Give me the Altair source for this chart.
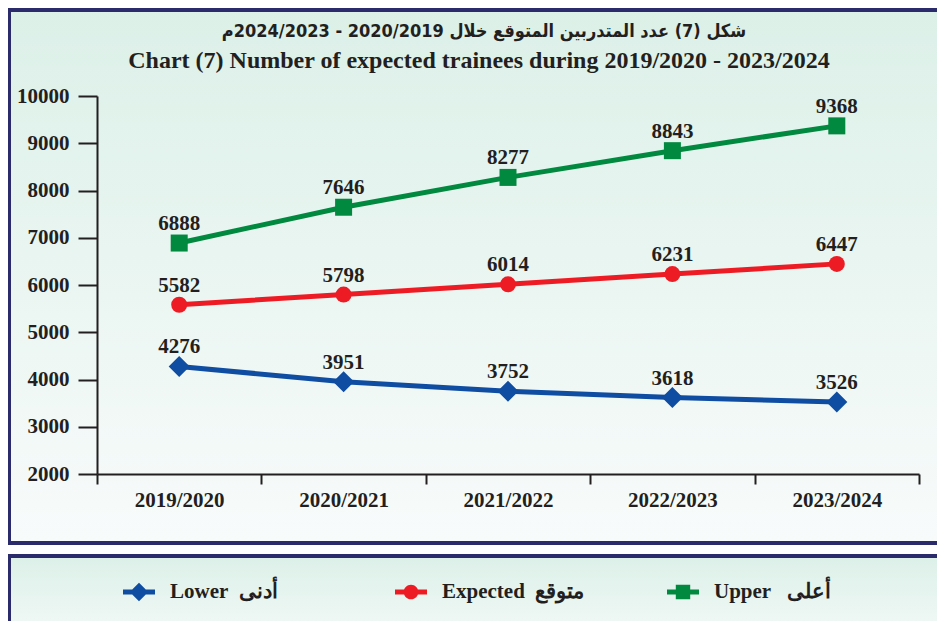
import altair as alt
import pandas as pd

# ---------------- data ----------------
years = ["2019/2020", "2020/2021", "2021/2022", "2022/2023", "2023/2024"]
lower = [4276, 3951, 3752, 3618, 3526]
expected = [5582, 5798, 6014, 6231, 6447]
upper = [6888, 7646, 8277, 8843, 9368]

series_names = ["Lower", "Expected", "Upper"]
legend_labels = ["Lower\u00a0 أدنى", "Expected\u00a0 متوقع", "Upper\u00a0\u00a0 أعلى"]
series_colors = ["#0e4da1", "#ed1c24", "#00893f"]
y_ticks = [2000, 3000, 4000, 5000, 6000, 7000, 8000, 9000, 10000]

title_ar = "شكل (7) عدد المتدربين المتوقع خلال 2020/2019 - 2024/2023م"
title_en = "Chart (7) Number of expected trainees during 2019/2020 - 2023/2024"

rows = []
for name, vals in zip(series_names, [lower, expected, upper]):
    for yr, v in zip(years, vals):
        rows.append({"year": yr, "value": v, "series": name})
df = pd.DataFrame(rows)

# ---------------- styling ----------------
INK = "#231f20"
NAVY = "#2b2a6b"
SERIF = "Liberation Serif"

color_scale = alt.Scale(domain=series_names, range=series_colors)

x_enc = alt.X(
    "year:N", sort=years,
    scale=alt.Scale(type="band", paddingInner=0, paddingOuter=0),
    axis=alt.Axis(title=None, labelAngle=0, tickBand="extent", tickSize=10,
                  tickWidth=2, domainWidth=2, tickColor=INK, domainColor=INK,
                  labelFont=SERIF, labelFontWeight="bold", labelFontSize=21,
                  labelColor=INK, labelPadding=5, zindex=1),
)
y_enc = alt.Y(
    "value:Q",
    scale=alt.Scale(domain=[2000, 10000], nice=False, zero=False),
    axis=alt.Axis(title=None, values=y_ticks, format="d", tickSize=19,
                  tickWidth=2, domainWidth=2, tickColor=INK, domainColor=INK,
                  labelFont=SERIF, labelFontWeight="bold", labelFontSize=21,
                  labelColor=INK, labelPadding=9, grid=False, zindex=1),
)

base = alt.Chart(df)
one = pd.DataFrame({"k": [0]})

def box(y0, y1):
    grad = alt.Gradient(
        gradient="linear", x1=0, x2=0, y1=0, y2=1,
        stops=[alt.GradientStop(color="#dcf0e8", offset=0),
               alt.GradientStop(color="#f8fbfb", offset=1)],
    )
    return alt.Chart(one).mark_rect(fill=grad, stroke=NAVY, strokeWidth=4).encode(
        x=alt.value(-88), x2=alt.value(870), y=alt.value(y0), y2=alt.value(y1)
    )

top_box = box(-86, 447)
legend_box = box(460, 560)

# legend with line+symbol glyphs (invisible points that only carry the legend)
bar = "M-1,-0.16L1,-0.16L1,0.16L-1,0.16Z "
shape_paths = [
    bar + "M0,-0.58L0.58,0L0,0.58L-0.58,0Z",
    bar + "M-0.46,0A0.46,0.46 0 1,1 0.46,0A0.46,0.46 0 1,1 -0.46,0Z",
    bar + "M-0.45,-0.45L0.45,-0.45L0.45,0.45L-0.45,0.45Z",
]
label_map = "{" + ",".join(f"'{k}':'{v}'" for k, v in zip(series_names, legend_labels)) + "}"
leg = alt.Legend(
    title=None, orient="none", legendX=26, legendY=480, direction="horizontal",
    symbolSize=1024, symbolStrokeWidth=0, symbolOpacity=1,
    labelExpr=label_map + "[datum.label]", labelFont=SERIF, labelFontWeight="bold",
    labelFontSize=21, labelColor=INK, labelOffset=15, labelLimit=300,
    columnPadding=82, gridAlign="all", padding=0, zindex=2,
)
legend_layer = base.mark_point(filled=True, opacity=0, size=1).encode(
    x=x_enc, y=y_enc,
    color=alt.Color("series:N", scale=color_scale, legend=leg),
    shape=alt.Shape("series:N", scale=alt.Scale(domain=series_names, range=shape_paths), legend=leg),
)

lines = base.mark_line(strokeWidth=5).encode(
    x=x_enc, y=y_enc,
    color=alt.Color("series:N", scale=color_scale, legend=None),
    detail="series:N",
)

marker_specs = [("Lower", "diamond", 441), ("Expected", "circle", 256), ("Upper", "square", 289)]
markers = []
for name, shp, sz in marker_specs:
    markers.append(
        base.transform_filter(alt.datum.series == name)
        .mark_point(shape=shp, filled=True, size=sz, opacity=1, strokeWidth=0)
        .encode(x=x_enc, y=y_enc,
                color=alt.Color("series:N", scale=color_scale, legend=None))
    )

labels = base.mark_text(
    font=SERIF, fontWeight="bold", fontSize=21, color=INK,
    baseline="alphabetic", dy=-13,
).encode(x=x_enc, y=y_enc, text=alt.Text("value:Q", format="d"))

t_ar = alt.Chart(one).mark_text(
    text=title_ar, font="DejaVu Sans Condensed, DejaVu Sans", fontWeight="bold",
    fontSize=18, color=INK, align="center", baseline="middle",
).encode(x=alt.value(387), y=alt.value(-64))

t_en = alt.Chart(one).mark_text(
    text=title_en, font=SERIF, fontWeight="bold", fontSize=24, color=INK,
    align="center", baseline="middle",
).encode(x=alt.value(382), y=alt.value(-35))

chart = alt.layer(
    top_box, legend_box, legend_layer, lines, *markers, labels, t_ar, t_en
).properties(
    width=822, height=378,
    autosize=alt.AutoSizeParams(type="none"),
    padding={"left": 89, "top": 88, "right": 18, "bottom": 147},
    background="white",
).configure_view(stroke=None)

chart.save("out.html", embed_options={"renderer": "svg", "actions": False})
